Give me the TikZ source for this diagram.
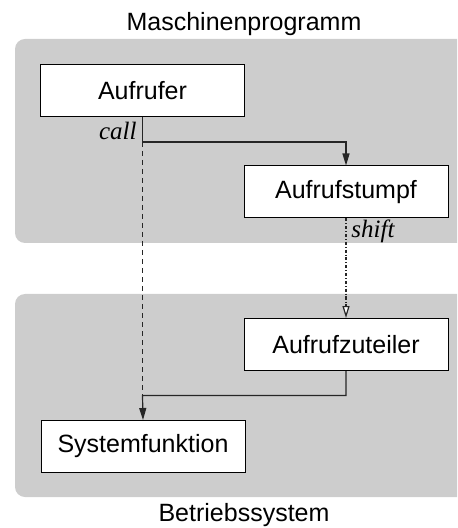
\documentclass[tikz,border=0pt]{standalone}
\usepackage{fontspec}
\setmainfont{Liberation Serif}
\setsansfont{Liberation Sans}
\usetikzlibrary{arrows.meta,positioning}
\definecolor{regiongray}{RGB}{205,205,205}

\begin{document}
\begin{tikzpicture}[x=0.5pt,y=-0.5pt,
box/.style={rectangle, draw, fill=white, line width=0.5pt, minimum width=102pt, minimum height=26pt, font=\sffamily\fontsize{12.5}{15}\selectfont},
region/.style={fill=regiongray, rounded corners=5pt},
title/.style={font=\sffamily\fontsize{12.5}{15}\selectfont},
tag/.style={font=\itshape\fontsize{12.5}{15}\selectfont, inner sep=0pt},
point/.style={coordinate},
conn/.style={line width=0.6pt, draw=black!85},
tip/.style={-{Triangle[length=6pt,width=3.5pt]}},
opentip/.style={-{Triangle[open,fill=white,length=6pt,width=3.5pt]}},
]
\clip (0,0) rectangle (457,528);
%regions
\fill[region] (15,39) rectangle (480,243);
\fill[region] (15,294) rectangle (480,497);
\node (mp) [title] at (244,24) {Maschinenprogramm};
\node (bs) [title] at (244,515) {Betriebssystem};
%boxes
\node (aufrufer) [box] at (142.5,90.5) {Aufrufer};
\node (stumpf) [box] at (346,192) {Aufrufstumpf};
\node (zuteiler) [box] at (346,344.5) {Aufrufzuteiler};
\node (sysfkt) [box] at (143,446.5) {Systemfunktion};
%points
\node (callpt) [point] at (aufrufer.south |- 0,142) {};
\node (join) [point] at (aufrufer.south |- 0,395.5) {};
%connectors
\draw [conn,tip] (aufrufer.south)--(callpt)-|(stumpf.north);
\draw [conn,dash pattern=on 2.5pt off 2pt] (callpt)--(join);
\draw [conn,tip] (zuteiler.south)|-(join)--(sysfkt.north);
\draw [conn,opentip,dash pattern=on 1.5pt off 1pt on 0.4pt off 1pt] (stumpf.south)--(zuteiler.north);
\node (call) [tag,anchor=base east] at (137,140) {call};
\node (shift) [tag,anchor=base west] at (351,238) {shift};
\end{tikzpicture}
\end{document}
